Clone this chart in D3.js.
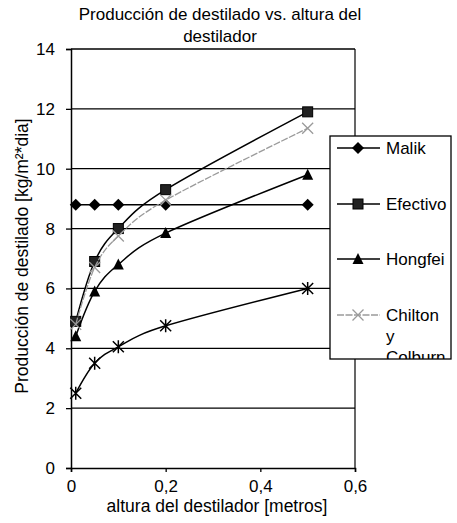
<!DOCTYPE html>
<html>
<head>
<meta charset="utf-8">
<script src="https://cdn.jsdelivr.net/npm/d3@7"></script>
<style>
  body { margin: 0; background: #fff; }
  text { font-family: "Liberation Sans", Arial, sans-serif; fill: #000; }
</style>
</head>
<body>
<svg class="chart"></svg>
<script>
// data
var alturas = [0.01, 0.05, 0.1, 0.2, 0.5];
var malik = [8.8, 8.8, 8.8, 8.8, 8.8];
var efectivo = [4.9, 6.9, 8.0, 9.3, 11.9];
var hongfei = [4.4, 5.9, 6.8, 7.85, 9.8];
var chilton = [4.8, 6.7, 7.75, 8.95, 11.35];
var quinta = [2.5, 3.5, 4.05, 4.75, 6.0];
var xTicks = [0, 0.2, 0.4, 0.6];
var yTicks = [0, 2, 4, 6, 8, 10, 12, 14];
var leyenda = ["Malik", "Efectivo", "Hongfei", "Chilton y Colburn"];

var svg = d3.select(".chart")
    .attr("width", 457)
    .attr("height", 523);

var x = d3.scaleLinear().domain([0, 0.6]).range([71, 355]);
var y = d3.scaleLinear().domain([0, 14]).range([468, 49]);
var fmt = function(d) { return d === 0 ? "0" : String(d).replace(".", ","); };

// gridlines
svg.append("g").selectAll("line").data(yTicks.slice(1)).enter().append("line")
    .attr("x1", x(0)).attr("x2", x(0.6))
    .attr("y1", function(d) { return y(d); })
    .attr("y2", function(d) { return y(d); })
    .attr("stroke", "#000").attr("stroke-width", 1.3);

// plot border right
svg.append("line")
    .attr("x1", x(0.6)).attr("x2", x(0.6))
    .attr("y1", y(14)).attr("y2", y(0))
    .attr("stroke", "#000").attr("stroke-width", 1.2);

// axes
var yAxis = svg.append("g")
    .attr("transform", "translate(" + x(0) + ",0)")
    .call(d3.axisLeft(y).tickValues(yTicks).tickSize(5).tickPadding(11).tickFormat(fmt));
var xAxis = svg.append("g")
    .attr("transform", "translate(0," + y(0) + ")")
    .call(d3.axisBottom(x).tickValues(xTicks).tickSize(4).tickPadding(8).tickFormat(fmt));
[xAxis, yAxis].forEach(function(a) {
  a.select(".domain").attr("stroke", "#000").attr("stroke-width", 1.5);
  a.selectAll(".tick line").attr("stroke", "#000").attr("stroke-width", 1.3);
  a.selectAll("text").attr("font-size", 17).style("font-family", "Liberation Sans, Arial, sans-serif");
});

// series
var series = [
  { name: "Malik", values: malik, color: "#000", marker: "diamond", curve: d3.curveLinear },
  { name: "Efectivo", values: efectivo, color: "#000", marker: "square", curve: d3.curveCatmullRom.alpha(0) },
  { name: "Hongfei", values: hongfei, color: "#000", marker: "triangle", curve: d3.curveCatmullRom.alpha(0) },
  { name: "Chilton", values: chilton, color: "#9a9a9a", marker: "cross", curve: d3.curveCatmullRom.alpha(0) },
  { name: "quinta", values: quinta, color: "#000", marker: "star", curve: d3.curveCatmullRom.alpha(0) }
];

function drawMarker(g, type, color) {
  if (type === "diamond") {
    g.append("path").attr("d", "M0,-6L6,0L0,6L-6,0Z").attr("fill", color);
  } else if (type === "square") {
    g.append("rect").attr("x", -5).attr("y", -5).attr("width", 10).attr("height", 10)
      .attr("fill", "#222").attr("stroke", "#000");
  } else if (type === "triangle") {
    g.append("path").attr("d", "M0,-6L5.5,5L-5.5,5Z").attr("fill", color);
  } else if (type === "cross") {
    g.append("path").attr("d", "M-5.5,-5.5L5.5,5.5M-5.5,5.5L5.5,-5.5").attr("stroke", color).attr("stroke-width", 1.3);
  } else if (type === "star") {
    g.append("path").attr("d", "M-5.5,-5.5L5.5,5.5M-5.5,5.5L5.5,-5.5M0,-6.5L0,6.5").attr("stroke", color).attr("stroke-width", 1.5);
  }
}

series.forEach(function(s) {
  var pts = alturas.map(function(a, i) { return [a, s.values[i]]; });
  var line = d3.line()
      .x(function(d) { return x(d[0]); })
      .y(function(d) { return y(d[1]); })
      .curve(s.curve);
  svg.append("path")
      .attr("d", line(pts))
      .attr("fill", "none")
      .attr("stroke", s.color)
      .attr("stroke-width", s.name === "Chilton" ? 1.3 : 1.5)
      .attr("stroke-dasharray", s.name === "Chilton" ? "7,1.5" : null);
  pts.forEach(function(p) {
    var g = svg.append("g").attr("transform", "translate(" + x(p[0]) + "," + y(p[1]) + ")");
    drawMarker(g, s.marker, s.color);
  });
});

// legend
var lx = 330, ly = 136, lw = 121, lh = 223;
svg.append("clipPath").attr("id", "legclip").append("rect")
    .attr("x", lx).attr("y", ly).attr("width", lw).attr("height", lh);
svg.append("rect")
    .attr("x", lx).attr("y", ly).attr("width", lw).attr("height", lh)
    .attr("fill", "#fff").attr("stroke", "#000").attr("stroke-width", 1.3);
var leg = svg.append("g").attr("clip-path", "url(#legclip)");
var legY = [148, 204, 259, 315];
leyenda.forEach(function(name, i) {
  var s = series[i];
  leg.append("line")
      .attr("x1", 337).attr("x2", 380)
      .attr("y1", legY[i]).attr("y2", legY[i])
      .attr("stroke", s.color).attr("stroke-width", 1.5)
      .attr("stroke-dasharray", s.name === "Chilton" ? "7,1.5" : null);
  drawMarker(leg.append("g").attr("transform", "translate(358," + legY[i] + ")"), s.marker, s.color);
  var words = name === "Chilton y Colburn" ? ["Chilton", "y", "Colburn"] : [name];
  words.forEach(function(w, j) {
    leg.append("text")
        .attr("x", 386).attr("y", legY[i] + 6 + j * 21)
        .attr("font-size", 17)
        .text(w);
  });
});

// titles
svg.append("text")
    .attr("x", 220).attr("y", 20)
    .attr("text-anchor", "middle").attr("font-size", 17)
    .text("Producción de destilado vs. altura del");
svg.append("text")
    .attr("x", 220).attr("y", 42)
    .attr("text-anchor", "middle").attr("font-size", 17)
    .text("destilador");
svg.append("text")
    .attr("x", 217).attr("y", 512)
    .attr("text-anchor", "middle").attr("font-size", 17.5)
    .text("altura del destilador [metros]");
svg.append("text")
    .attr("transform", "translate(28,256) rotate(-90)")
    .attr("text-anchor", "middle").attr("font-size", 17.5)
    .text("Producción de destilado [kg/m²*dia]");
</script>
</body>
</html>
